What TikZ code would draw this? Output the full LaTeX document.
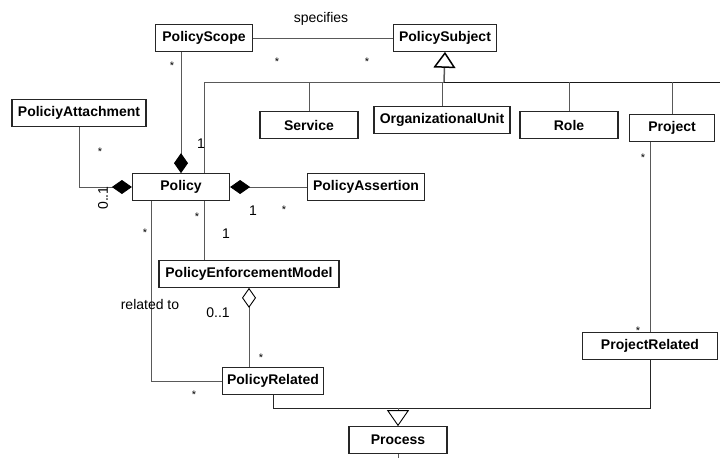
\documentclass[tikz,border=0pt]{standalone}
\usepackage{fontspec}
\setmainfont{Liberation Sans}
\usetikzlibrary{arrows.meta}

\begin{document}
\begin{tikzpicture}[x=1pt,y=-1pt,
    every node/.style={font=\fontsize{14}{16}\selectfont},
    cls/.style={draw=black!85,line width=1.2pt,font=\fontsize{14}{16}\selectfont\bfseries,minimum height=26.5pt,inner sep=2pt},
    assoc/.style={draw=black!65,line width=0.9pt},
    comp/.style={assoc,-{Diamond[length=20pt,width=14pt,black]}},
    aggr/.style={assoc,{Diamond[open,length=20pt,width=14pt,black,fill=white]}-},
    gen/.style={assoc,-{Triangle[open,length=16pt,width=22pt,black,fill=white]}},
    mult/.style={inner sep=0pt},
    star/.style={inner sep=0pt,font=\fontsize{11}{13}\selectfont}]
  \useasboundingbox (0,0) rectangle (720,458);

  % classes
  \node[cls,minimum width=97pt] (scope) at (204,38) {PolicyScope};
  \node[cls,minimum width=103pt] (subject) at (445,38) {PolicySubject};
  \node[cls,minimum width=134pt] (attach) at (79,113) {PoliciyAttachment};
  \node[cls,minimum width=97pt] (policy) at (181,187) {Policy};
  \node[cls,minimum width=117pt] (assertion) at (366,187) {PolicyAssertion};
  \node[cls,minimum width=98pt] (service) at (309,125) {Service};
  \node[cls,minimum width=136pt] (orgunit) at (442,120) {OrganizationalUnit};
  \node[cls,minimum width=98pt] (role) at (569,125) {Role};
  \node[cls,minimum width=85pt] (project) at (672,128) {Project};
  \node[cls,minimum width=180pt] (pem) at (249,274) {PolicyEnforcementModel};
  \node[cls,minimum width=101pt] (polrel) at (273,381) {PolicyRelated};
  \node[cls,minimum width=135pt] (projrel) at (650,346) {ProjectRelated};
  \node[cls,minimum width=98pt] (process) at (398,440) {Process};

  \coordinate (hub) at (444,82);
  \coordinate (railend) at (720,82);
  \coordinate (procjoin) at (398,408);
  \coordinate (procend) at (398,458);

  % associations
  \draw[assoc] (scope) -- (subject);
  \draw[gen,line width=1.5pt] (hub) -- (subject.south);
  \draw[assoc] ([xshift=23pt]policy.north) |- (hub);
  \draw[assoc,draw=black!90] (hub) -- (railend);
  \foreach \c in {service,orgunit,role,project}
    \draw[assoc] (\c.north) -- (\c.north |- hub);
  \draw[comp] (policy.north |- scope.south) -- (policy.north);
  \draw[comp] (attach.south) |- (policy.west);
  \draw[comp] (assertion.west) -- (policy.east);
  \draw[assoc] ([xshift=23pt]policy.south) -- ([xshift=23pt]policy.south |- pem.north);
  \draw[assoc] ([xshift=-30pt]policy.south) |- (polrel.west);
  \draw[aggr] (pem.south) -- (pem.south |- polrel.north);
  \draw[assoc] (projrel.north |- project.south) -- (projrel.north);
  \draw[assoc,draw=black!85] (projrel.south) |- (procjoin);
  \draw[assoc,draw=black!85] (polrel.south) |- (procjoin);
  \draw[gen] (procjoin) -- (process.north);
  \draw[assoc] (process.south) -- (procend);

  % labels
  \node (specifies) at (321,19) {specifies};
  \node (relatedto) at (150,304) {related to};
  \node[mult,rotate=90] (attachmult) at (103,198) {0..1};
  \node[mult] (pemmult) at (218,313) {0..1};
  \foreach \n/\p in {a/{(201,144)},b/{(253,211)},c/{(226,234)}}
    \node[mult] (one\n) at \p {1};
  \foreach \n/\p in {a/{(277,62)},b/{(367,62)},c/{(172,66)},d/{(100,152)},e/{(284,210)},f/{(197,217)},g/{(145,233)},h/{(261,358)},i/{(194,395)},j/{(643,158)},k/{(638,331)}}
    \node[star] (star\n) at \p {*};
\end{tikzpicture}
\end{document}
